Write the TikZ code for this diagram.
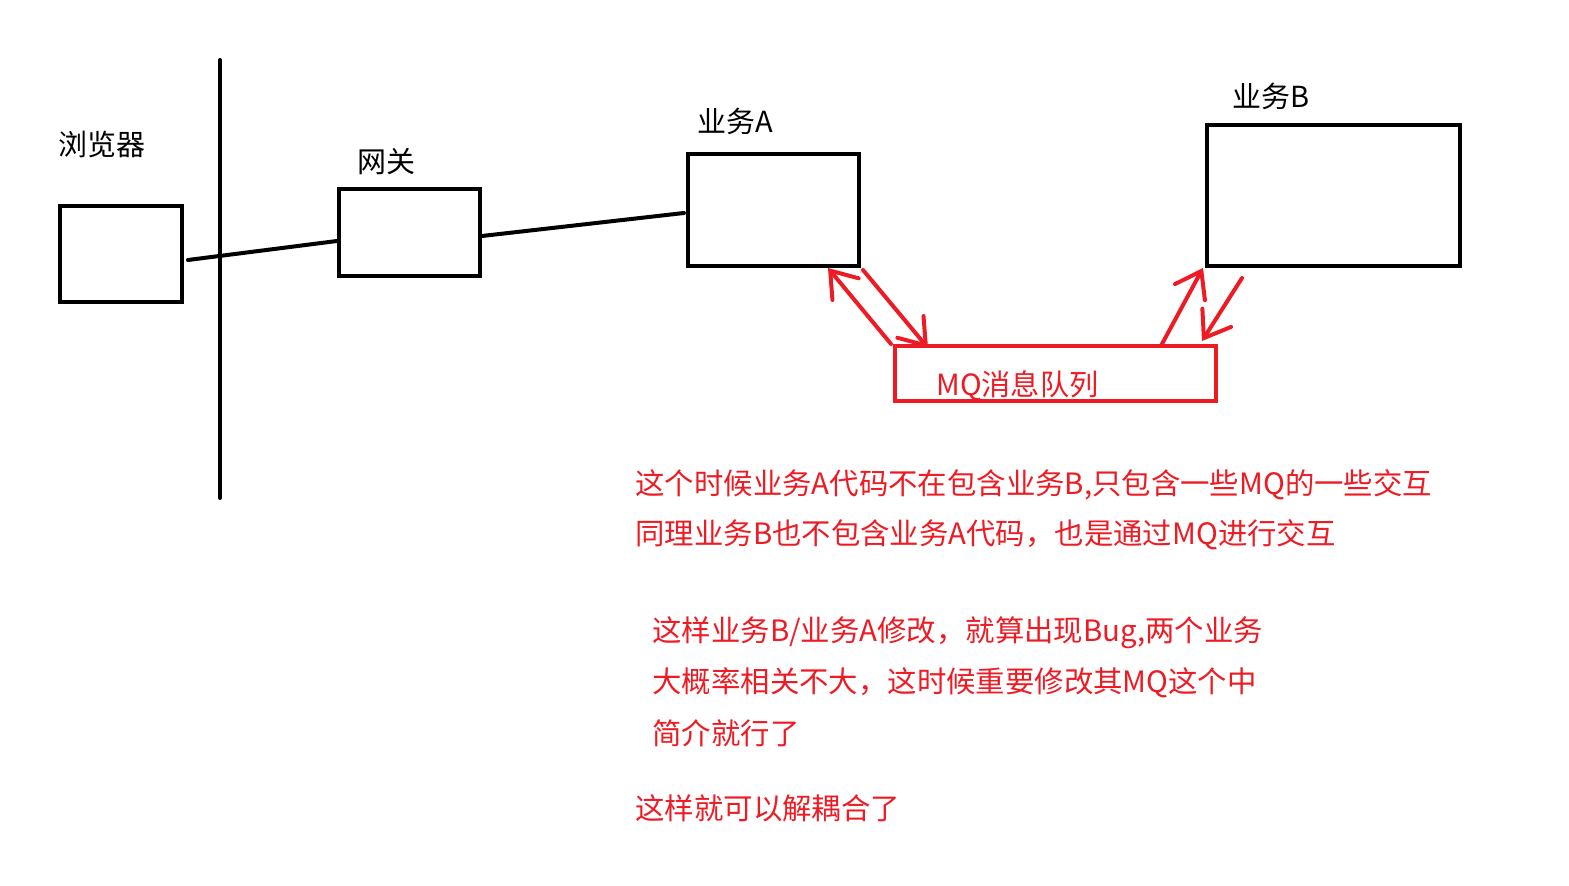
\documentclass[tikz,border=0pt]{standalone}
\usepackage{fontspec}
\usepackage{xcolor}
\usetikzlibrary{arrows.meta,calc}
\newfontfamily\cjk{Noto Sans CJK SC}
\definecolor{mqred}{RGB}{237,28,36}

\begin{document}
\begin{tikzpicture}[
    x=0.5pt, y=-0.5pt,
    every node/.style={font=\cjk\fontsize{14.5}{17}\selectfont},
    sysbox/.style={draw=black, line width=2pt, inner sep=0pt},
    queuebox/.style={draw=mqred, line width=2pt, inner sep=0pt},
    wire/.style={line width=2pt, black, line cap=round},
    mqflow/.style={line width=2pt, mqred, line cap=round,
                   -{Straight Barb[length=12pt,width=17pt,line cap=round]}},
    lbl/.style={anchor=west, inner sep=0pt},
    note/.style={anchor=west, inner sep=0pt, text=mqred,
                 font=\cjk\fontsize{14.7}{17}\selectfont},
]
\useasboundingbox (0,0) rectangle (1569,886);

% ── boxes ────────────────────────────────────────────────────
\node[sysbox, minimum width=61pt,   minimum height=48pt]   (browser) at (121,254)    {};
\node[sysbox, minimum width=70.5pt, minimum height=43.5pt] (gateway) at (409.5,232.5) {};
\node[sysbox, minimum width=85.5pt, minimum height=56pt]   (busA)    at (773.5,210)  {};
\node[sysbox, minimum width=126.5pt,minimum height=70.5pt] (busB)    at (1333.5,195.5) {};
\node[queuebox, minimum width=160.5pt, minimum height=27.5pt] (mq) at (1055.5,373.5) {};

% ── labels ───────────────────────────────────────────────────
\node[lbl] (browserLbl) at (58,145)  {浏览器};
\node[lbl] (gatewayLbl) at (357,162) {网关};
\node[lbl] (busALbl)    at (697,121) {业务A};
\node[lbl] (busBLbl)    at (1232,96) {业务B};
\node[note, font=\cjk\fontsize{14.6}{17}\selectfont] (mqLbl) at (936,386) {MQ消息队列};

% ── wall + plain links ───────────────────────────────────────
\coordinate (wallTop) at (220,60);
\coordinate (wallBot) at (220,498);
\draw[wire] (wallTop) -- (wallBot);
\draw[wire] ($(browser.east)+(4,6)$) -- ($(gateway.west)+(0,8.5)$);
\draw[wire] ($(gateway.east)+(0,3.5)$) -- ($(busA.west)+(-2,3)$);

% ── MQ arrows ────────────────────────────────────────────────
\draw[mqflow] ($(mq.north west)+(-2,0)$) -- ($(busA.south west)+(142,0)$);
\draw[mqflow] ($(busA.south east)+(2,2)$) -- ($(mq.north west)+(35,4)$);
\draw[mqflow] ($(mq.north east)+(-56,0)$) -- ($(busB.south west)+(-2,0)$);
\draw[mqflow] ($(busB.south west)+(37,10)$) -- ($(mq.north east)+(-16,-3)$);

% ── notes ────────────────────────────────────────────────────
\node[note] (note1) at (635,485) {这个时候业务A代码不在包含业务B,只包含一些MQ的一些交互};
\node[note] (note2) at (635,535) {同理业务B也不包含业务A代码，也是通过MQ进行交互};
\node[note] (note3) at (652,633) {这样业务B/业务A修改，就算出现Bug,两个业务};
\node[note] (note4) at (652,683) {大概率相关不大，这时候重要修改其MQ这个中};
\node[note] (note5) at (652,733) {简介就行了};
\node[note] (note6) at (635,808) {这样就可以解耦合了};

\end{tikzpicture}
\end{document}
